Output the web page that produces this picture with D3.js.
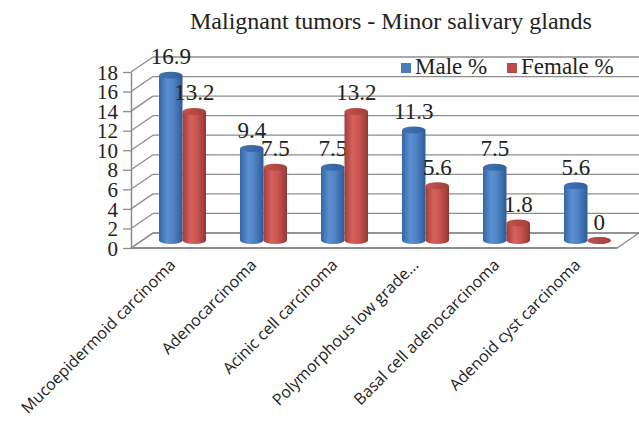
<!DOCTYPE html>
<html>
<head>
<meta charset="utf-8">
<script src="https://cdn.jsdelivr.net/npm/d3@7"></script>
<style>
  body { margin: 0; background: #fff; }
  svg { display: block; }
</style>
</head>
<body>
<svg id="chart" width="639" height="423"></svg>
<script>
// Chart data
var categories = ["Mucoepidermoid carcinoma", "Adenocarcinoma", "Acinic cell carcinoma",
    "Polymorphous low grade...", "Basal cell adenocarcinoma", "Adenoid cyst carcinoma"];
var maleValues = [16.9, 9.4, 7.5, 11.3, 7.5, 5.6];
var femaleValues = [13.2, 7.5, 13.2, 5.6, 1.8, 0];
var seriesNames = ["Male %", "Female %"];
var yTicks = [0, 2, 4, 6, 8, 10, 12, 14, 16, 18];

var svg = d3.select("#chart");

var plot = { left: 131, right: 617, top: 72, bottom: 248 };
// depth offset of the back wall
var depth = { dx: 22, dy: -15 };
var gridColor = "#8c8c8c";

var xScale = d3.scaleBand()
    .domain(categories)
    .range([plot.left, plot.right]);

var yScale = d3.scaleLinear()
    .domain([0, 18])
    .range([plot.bottom, plot.top]);

var barWidth = 23.5;
var seriesScale = d3.scaleBand()
    .domain(seriesNames)
    .range([-barWidth, barWidth]);

// Gradients for the cylinders
var defs = svg.append("defs");
var makeGradient = function (id, stops) {
    var g = defs.append("linearGradient").attr("id", id)
        .attr("x1", "0%").attr("x2", "100%").attr("y1", "0%").attr("y2", "0%");
    stops.forEach(function (s) {
        g.append("stop").attr("offset", s[0]).attr("stop-color", s[1]);
    });
};
makeGradient("blueBody", [["0%", "#3566a6"], ["35%", "#5a90d2"], ["60%", "#4f84c5"], ["100%", "#2e5b97"]]);
makeGradient("redBody", [["0%", "#a23d3a"], ["35%", "#d6625e"], ["60%", "#ca5652"], ["100%", "#953633"]]);
makeGradient("blueTop", [["0%", "#4274b3"], ["100%", "#30609e"]]);
makeGradient("redTop", [["0%", "#c4524f"], ["100%", "#a2403d"]]);

// Title
svg.append("text")
    .attr("x", 391)
    .attr("y", 29)
    .attr("text-anchor", "middle")
    .attr("font-family", "Liberation Serif")
    .attr("font-size", "24px")
    .attr("fill", "#222")
    .text("Malignant tumors - Minor salivary glands");

// Floor
var floorPts = [
    [plot.left, plot.bottom], [plot.right, plot.bottom],
    [plot.right + depth.dx, plot.bottom + depth.dy], [plot.left + depth.dx, plot.bottom + depth.dy]
];
svg.append("polygon")
    .attr("points", floorPts.map(p => p.join(",")).join(" "))
    .attr("fill", "#fff")
    .attr("stroke", gridColor)
    .attr("stroke-width", 1.3);

// Side wall diagonals and back wall gridlines
var grid = svg.append("g").attr("stroke", gridColor).attr("stroke-width", 1.3).attr("fill", "none");
grid.selectAll("line.side")
    .data(yTicks)
    .enter()
    .append("line")
    .attr("class", "side")
    .attr("x1", plot.left)
    .attr("y1", d => yScale(d))
    .attr("x2", plot.left + depth.dx)
    .attr("y2", d => yScale(d) + depth.dy);
grid.selectAll("line.back")
    .data(yTicks)
    .enter()
    .append("line")
    .attr("class", "back")
    .attr("x1", plot.left + depth.dx)
    .attr("y1", d => yScale(d) + depth.dy)
    .attr("x2", plot.right + depth.dx)
    .attr("y2", d => yScale(d) + depth.dy);

// Front floor edge, a bit heavier
svg.append("line")
    .attr("x1", plot.left).attr("y1", plot.bottom)
    .attr("x2", plot.right).attr("y2", plot.bottom)
    .attr("stroke", gridColor).attr("stroke-width", 2);

// Y axis
var yAxis = d3.axisLeft(yScale)
    .tickValues(yTicks)
    .tickSize(8)
    .tickSizeOuter(0)
    .tickPadding(5);
var yAxisG = svg.append("g")
    .attr("transform", "translate(" + plot.left + ",0)")
    .call(yAxis);
yAxisG.select(".domain").attr("stroke", gridColor).attr("stroke-width", 1.5);
yAxisG.selectAll(".tick line").attr("stroke", gridColor).attr("stroke-width", 1.3);
yAxisG.selectAll(".tick text")
    .attr("font-family", "Liberation Serif")
    .attr("font-size", "21px")
    .attr("fill", "#222")
    .attr("dy", "0.34em");

// Bars as cylinders, sitting half way into the depth
var half = { dx: depth.dx / 2, dy: depth.dy / 2 };
var ry = 3.5;
var barData = [];
categories.forEach(function (c, i) {
    barData.push({ cat: c, series: "Male %", value: maleValues[i], body: "blueBody", top: "blueTop" });
    barData.push({ cat: c, series: "Female %", value: femaleValues[i], body: "redBody", top: "redTop" });
});

var bars = svg.append("g").selectAll("g.bar")
    .data(barData)
    .enter()
    .append("g")
    .attr("class", "bar");

var barLeft = d => xScale(d.cat) + xScale.bandwidth() / 2 + seriesScale(d.series) + half.dx;
var baseY = plot.bottom + half.dy;
var topY = d => yScale(d.value) + half.dy;

// bottom ellipse
bars.append("ellipse")
    .attr("cx", d => barLeft(d) + barWidth / 2)
    .attr("cy", baseY)
    .attr("rx", barWidth / 2)
    .attr("ry", ry)
    .attr("fill", d => "url(#" + d.body + ")");
// body
bars.append("rect")
    .attr("x", d => barLeft(d))
    .attr("y", d => topY(d))
    .attr("width", barWidth)
    .attr("height", d => baseY - topY(d))
    .attr("fill", d => "url(#" + d.body + ")");
// top ellipse
bars.append("ellipse")
    .attr("cx", d => barLeft(d) + barWidth / 2)
    .attr("cy", d => topY(d))
    .attr("rx", barWidth / 2)
    .attr("ry", ry)
    .attr("fill", d => "url(#" + d.top + ")");

// Data labels
bars.append("text")
    .attr("x", d => barLeft(d) + barWidth / 2)
    .attr("y", d => topY(d) - 11)
    .attr("text-anchor", "middle")
    .attr("font-family", "Liberation Serif")
    .attr("font-size", "23px")
    .attr("fill", "#222")
    .text(d => d.value);

// Category labels
svg.append("g").selectAll("text")
    .data(categories)
    .enter()
    .append("text")
    .attr("transform", d => "translate(" + (xScale(d) + xScale.bandwidth() / 2 + 5) + ",266) rotate(-45)")
    .attr("text-anchor", "end")
    .attr("font-family", "Open Sans")
    .attr("font-size", "16px")
    .attr("fill", "#222")
    .text(d => d);

// Legend
var legendX = [401, 507];
var legendColors = ["#4a7ebb", "#be4b48"];
var legend = svg.append("g").selectAll("g")
    .data(seriesNames)
    .enter()
    .append("g")
    .attr("transform", (d, i) => "translate(" + legendX[i] + ",0)");
legend.append("rect")
    .attr("x", 0).attr("y", 63)
    .attr("width", 10).attr("height", 10)
    .attr("fill", (d, i) => legendColors[i]);
legend.append("text")
    .attr("x", 14).attr("y", 74)
    .attr("font-family", "Liberation Serif")
    .attr("font-size", "23px")
    .attr("fill", "#222")
    .text(d => d);
</script>
</body>
</html>
